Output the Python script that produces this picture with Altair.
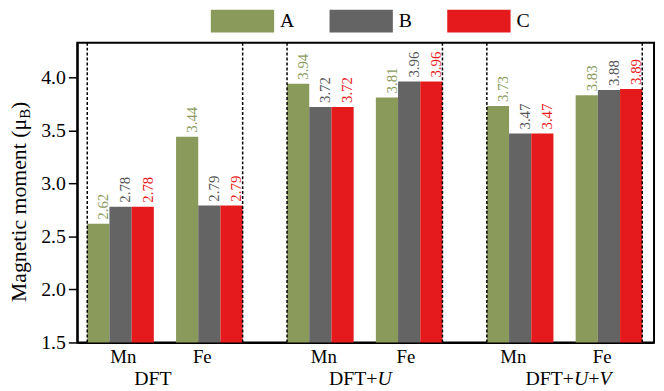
import json
import altair as alt
import pandas as pd

# ---------------- data ----------------
methods = ["DFT", "DFT+U", "DFT+U+V"]
sites = ["Mn", "Fe"]
series = ["A", "B", "C"]

# order: DFT-Mn, DFT-Fe, DFT+U-Mn, DFT+U-Fe, DFT+U+V-Mn, DFT+U+V-Fe
A_vals = [2.62, 3.44, 3.94, 3.81, 3.73, 3.83]
B_vals = [2.78, 2.79, 3.72, 3.96, 3.47, 3.88]
C_vals = [2.78, 2.79, 3.72, 3.96, 3.47, 3.89]

y_ticks = [1.5, 2.0, 2.5, 3.0, 3.5, 4.0]
site_label_pos = [1.60, 5.16, 10.63, 14.33, 19.17, 23.17]
site_label_txt = ["Mn", "Fe", "Mn", "Fe", "Mn", "Fe"]
group_label_pos = [2.96, 12.3, 21.68]
# group labels as (text, italic) segments
group_segments = [
    [("DFT", False)],
    [("DFT+", False), ("U", True)],
    [("DFT+", False), ("U", True), ("+", False), ("V", True)],
]

bar_colors = ["#8a9a5b", "#646464", "#e41a1c"]
label_colors = ["#8a9a5b", "#555555", "#e8191c"]

FONT = "Liberation Serif, Times New Roman, Times, serif"
W, H = 583, 303
X_DOM = [-0.45, 25.53]
Y_DOM = [1.5, 4.326]
PX_PER_UNIT = W / (X_DOM[1] - X_DOM[0])

# ---------------- build tables ----------------
vals = [A_vals, B_vals, C_vals]
rows = []
for mi, m in enumerate(methods):
    for si, s in enumerate(sites):
        for k, ser in enumerate(series):
            pos = mi * 9 + si * 4 + k
            rows.append({
                "method": m, "site": s, "series": ser,
                "value": vals[k][mi * 2 + si],
                "x0": pos, "x1": pos + 1, "xc": pos + 0.5,
            })
bars_df = pd.DataFrame(rows)

sep_df = pd.DataFrame({"xs": [mi * 9 + off for mi in range(len(methods)) for off in (0, 7)]})

# Liberation Serif advance widths (em)
ADV = {("DFT", False): 1.889, ("DFT+", False): 2.453, ("+", False): 0.564,
       ("U", True): 0.722, ("V", True): 0.611}
GFS = 20
seg_rows = []
for gi, segs in enumerate(group_segments):
    total = sum(ADV[s] * GFS for s in segs)
    cur = -total / 2
    for txt, it in segs:
        seg_rows.append({"x": group_label_pos[gi] + cur / PX_PER_UNIT, "t": txt, "it": it})
        cur += ADV[(txt, it)] * GFS
seg_df = pd.DataFrame(seg_rows)

xscale = alt.Scale(domain=X_DOM, nice=False, zero=False)
yscale = alt.Scale(domain=Y_DOM, nice=False, zero=False)

label_expr = f"{json.dumps(site_label_txt)}[indexof({json.dumps(site_label_pos)}, datum.value)]"

legend_path = "M-1,-0.36L1,-0.36L1,0.36L-1,0.36Z"

base = alt.Chart(bars_df)

bars = base.mark_bar(stroke=None).encode(
    x=alt.X("x0:Q", scale=xscale,
            axis=alt.Axis(values=site_label_pos, labelExpr=label_expr, ticks=False, tickSize=0,
                          domain=True, domainColor="black", domainWidth=2,
                          grid=False, title=None, labelFont=FONT, labelFontSize=19,
                          labelColor="black", labelPadding=5, labelOverlap=False, labelFlush=False)),
    x2="x1:Q",
    y=alt.Y("value:Q", scale=yscale,
            axis=alt.Axis(values=y_ticks, format=".1f", tickSize=9, tickWidth=1.5, tickColor="black",
                          domain=True, domainColor="black", domainWidth=2,
                          grid=False, title=None, labelFont=FONT, labelFontSize=20,
                          labelColor="black", labelPadding=3)),
    y2=alt.Y2(datum=1.5),
    color=alt.Color("series:N", sort=series,
                    scale=alt.Scale(domain=series, range=bar_colors),
                    legend=alt.Legend(orient="none", legendX=135, legendY=-54, direction="horizontal",
                                      title=None, symbolType=legend_path, symbolSize=4096,
                                      symbolStrokeWidth=0, symbolOpacity=1, labelFont=FONT,
                                      labelFontSize=20, labelColor="black", labelOffset=6,
                                      columnPadding=35, padding=0)),
)

value_labels = base.mark_text(angle=270, align="left", baseline="alphabetic", dx=4, dy=10,
                              font=FONT, fontSize=15).encode(
    x=alt.X("xc:Q", scale=xscale),
    y=alt.Y("value:Q", scale=yscale),
    text=alt.Text("value:Q", format=".2f"),
    color=alt.Color("series:N", scale=alt.Scale(domain=series, range=label_colors), legend=None),
)

seps = alt.Chart(sep_df).mark_rule(color="black", strokeDash=[3, 2], strokeWidth=1.5).encode(
    x=alt.X("xs:Q", scale=xscale)
)

grp_normal = alt.Chart(seg_df).transform_filter("!datum.it").mark_text(
    align="left", baseline="alphabetic", font=FONT, fontSize=GFS, color="black"
).encode(x=alt.X("x:Q", scale=xscale), y=alt.value(H + 43), text="t:N")

grp_italic = alt.Chart(seg_df).transform_filter("datum.it").mark_text(
    align="left", baseline="alphabetic", font=FONT, fontSize=GFS, fontStyle="italic", color="black"
).encode(x=alt.X("x:Q", scale=xscale), y=alt.value(H + 43), text="t:N")

title_df = pd.DataFrame({"main": ["Magnetic moment (μ"], "sub": ["B"], "close": [")"]})
TX, TY = -52, 77
t_main = alt.Chart(title_df).mark_text(angle=270, align="right", baseline="alphabetic",
                                       font=FONT, fontSize=22, color="black").encode(
    x=alt.value(TX), y=alt.value(TY), text="main:N")
t_sub = alt.Chart(title_df).mark_text(angle=270, align="left", baseline="alphabetic", dy=4,
                                      font=FONT, fontSize=15, color="black").encode(
    x=alt.value(TX), y=alt.value(TY), text="sub:N")
t_close = alt.Chart(title_df).mark_text(angle=270, align="left", baseline="alphabetic", dx=10,
                                        font=FONT, fontSize=22, color="black").encode(
    x=alt.value(TX), y=alt.value(TY), text="close:N")

chart = alt.layer(bars, value_labels, seps, grp_normal, grp_italic, t_main, t_sub, t_close).resolve_scale(
    color="independent"
).properties(
    width=W, height=H,
    background="white",
    padding={"left": 70, "top": 33, "right": 2, "bottom": 46},
    autosize=alt.AutoSizeParams(type="none"),
).configure_view(stroke="black", strokeWidth=2)

chart.save("out.html", embed_options={"renderer": "svg", "actions": False})
